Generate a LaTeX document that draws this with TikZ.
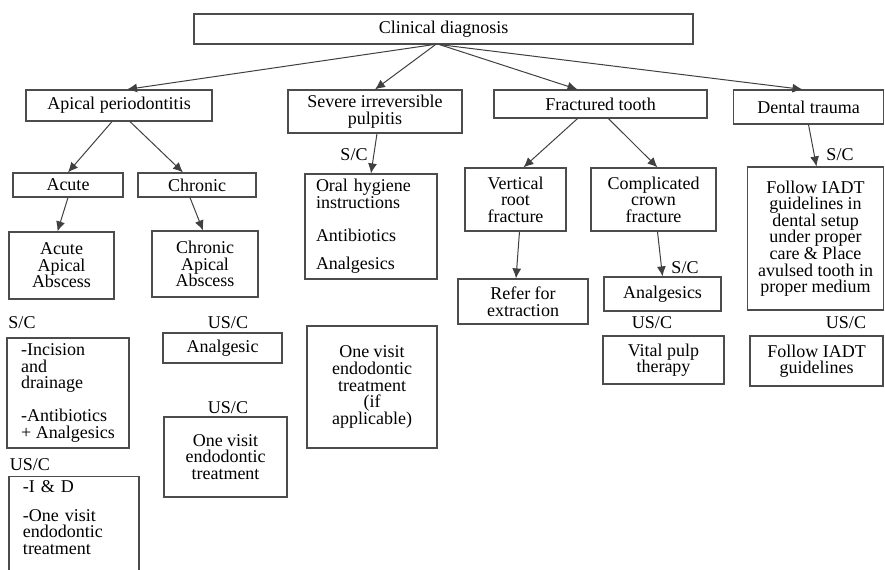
\documentclass[tikz,border=0pt]{standalone}
\usepackage{fontspec}
\setmainfont{Liberation Serif}
\usetikzlibrary{arrows.meta}

\begin{document}
\begin{tikzpicture}[x=0.5pt,y=-0.5pt,
   box/.style={draw=black!70,line width=0.6pt,inner sep=1pt,align=center,font=\fontsize{9}{8.3}\selectfont},
   lbox/.style={box,align=left,text width=#1},
   lbl/.style={inner sep=0pt,font=\fontsize{9}{8.3}\selectfont},
   arr/.style={draw=black!75,line width=0.5pt,-{Latex[length=5pt,width=4.5pt]}}]
   \useasboundingbox (0,0) rectangle (885,569);
   % top row
   \node[box,minimum width=249.5pt,minimum height=15pt] (diag) at (443.5,29) {Clinical diagnosis};
   \node[box,minimum width=93pt,minimum height=15.5pt] (apical) at (119,105.5) {Apical periodontitis};
   \node[box,minimum width=87pt,minimum height=21.5pt] (pulp) at (375,111.5) {Severe irreversible\\pulpitis};
   \node[box,minimum width=106.5pt,minimum height=14pt] (fract) at (600.5,104) {Fractured tooth};
   \node[box,minimum width=75pt,minimum height=17pt] (trauma) at (808.5,107) {Dental trauma};
   % apical periodontitis
   \node[box,minimum width=55pt,minimum height=12pt] (acute) at (68,185) {Acute};
   \node[box,minimum width=59pt,minimum height=12pt] (chronic) at (197,185) {Chronic};
   \node[box,minimum width=52.5pt,minimum height=33.5pt] (aaa) at (61.5,265.5) {Acute\\Apical\\Abscess};
   \node[box,minimum width=53pt,minimum height=33pt] (caa) at (205,264) {Chronic\\Apical\\Abscess};
   \node[lbl] (scA) at (22,323) {S/C};
   \node[box,align=left,minimum width=61pt,minimum height=55pt] (incis) at (68,393) {-Incision\\and\\drainage\\[8.3pt]-Antibiotics\\+ Analgesics};
   \node[lbl] (uscL) at (30,465) {US/C};
   \node[lbox=51pt,minimum width=65pt,anchor=north,inner ysep=2pt,text depth=44pt] (iandd) at (74,476) {-I \& D\\[6pt]-One visit\\endodontic\\treatment};
   \node[lbl] (uscA) at (228,323) {US/C};
   \node[box,minimum width=59.5pt,minimum height=15pt] (analg) at (222.5,348) {Analgesic};
   \node[lbl] (uscM) at (228,408) {US/C};
   \node[box,minimum width=61.5pt,minimum height=40pt] (onevis) at (225.5,457) {One visit\\endodontic\\treatment};
   % pulpitis
   \node[lbl] (scP) at (354,155) {S/C};
   \node[lbox=55pt,minimum width=66pt,minimum height=52.5pt] (oral) at (371,226.5) {Oral hygiene\\instructions\\[8pt]Antibiotics\\[6pt]Analgesics};
   \node[box,minimum width=65pt,minimum height=61pt] (onevisb) at (372,387) {One visit\\endodontic\\treatment\\(if\\applicable)};
   % fractured tooth
   \node[box,minimum width=50.5pt,minimum height=31.5pt] (vert) at (515.5,199.5) {Vertical\\root\\fracture};
   \node[box,minimum width=62.5pt,minimum height=31.5pt] (comp) at (653.5,199.5) {Complicated\\crown\\fracture};
   \node[box,minimum width=65pt,minimum height=22.5pt] (refer) at (523,301.5) {Refer for\\extraction};
   \node[lbl] (scC) at (685,268) {S/C};
   \node[box,minimum width=58.5pt,minimum height=17pt] (analgb) at (662.5,294) {Analgesics};
   \node[lbl] (uscC) at (652,323) {US/C};
   \node[box,minimum width=60.5pt,minimum height=24pt] (vital) at (663.5,360) {Vital pulp\\therapy};
   % dental trauma
   \node[lbl] (scT) at (840,155) {S/C};
   \node[box,minimum width=68pt,minimum height=71.5pt] (follow) at (815.5,238.5) {Follow IADT\\guidelines in\\dental setup\\under proper\\care \& Place\\avulsed tooth in\\proper medium};
   \node[lbl] (uscT) at (846,323) {US/C};
   \node[box,minimum width=66.5pt,minimum height=25pt] (followb) at (816.5,361) {Follow IADT\\guidelines};
   % arrows
   \draw[arr] ([xshift=-5pt]diag.south) -- ([xshift=4pt]apical.north);
   \draw[arr] ([xshift=-4pt]diag.south) -- (pulp.north);
   \draw[arr] ([xshift=-2pt]diag.south) -- ([xshift=-11.5pt]fract.north);
   \draw[arr] ([xshift=-2pt]diag.south) -- ([xshift=-3pt]trauma.north);
   \draw[arr] ([xshift=-3.5pt]apical.south) -- (acute.north);
   \draw[arr] ([xshift=5.5pt]apical.south) -- ([xshift=-7pt]chronic.north);
   \draw[arr] (acute.south) -- ([xshift=-2pt]aaa.north);
   \draw[arr] ([xshift=-3.5pt]chronic.south) -- ([xshift=-1pt]caa.north);
   \draw[arr] ([xshift=1pt]pulp.south) -- (oral.north);
   \draw[arr] ([xshift=-11.5pt]fract.south) -- ([xshift=4pt]vert.north);
   \draw[arr] ([xshift=4pt]fract.south) -- ([xshift=2pt]comp.north);
   \draw[arr] (trauma.south) -- ([xshift=0.5pt]follow.north);
   \draw[arr] ([xshift=2pt]vert.south) -- ([xshift=-3.5pt]refer.north);
   \draw[arr] ([xshift=2pt]comp.south) -- (analgb.north);
\end{tikzpicture}
\end{document}
